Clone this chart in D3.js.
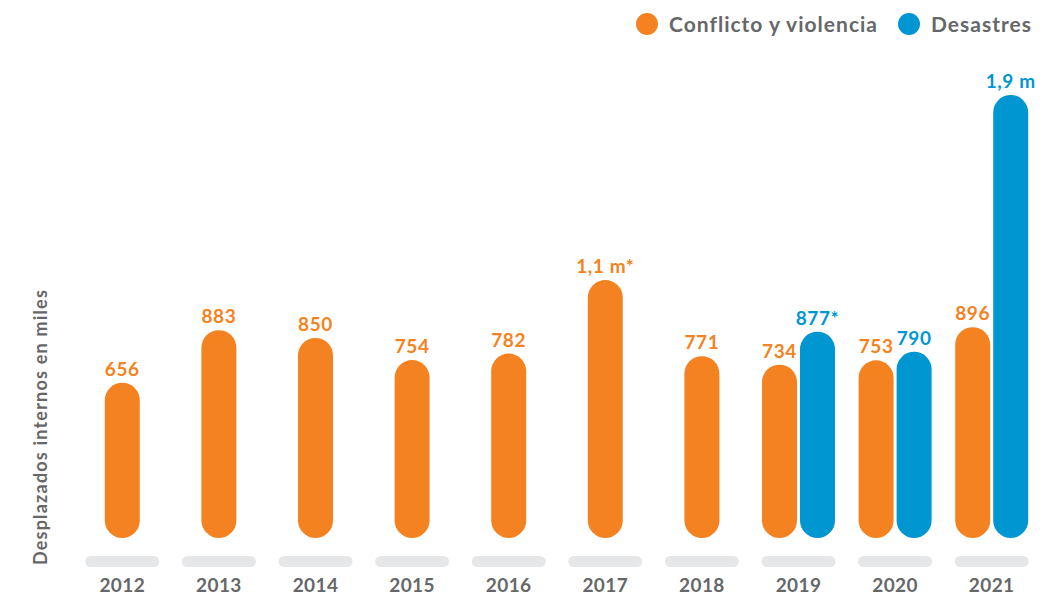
<!DOCTYPE html>
<html>
<head>
<meta charset="utf-8">
<script src="https://cdn.jsdelivr.net/npm/d3@7"></script>
<style>
  html, body { margin: 0; padding: 0; background: #fff; }
  svg { display: block; font-family: Lato, "Open Sans", sans-serif; }
</style>
</head>
<body>
<svg id="chart" width="1061" height="597"></svg>
<script>
// Internal displacement stock, thousands of people
const years = ["2012", "2013", "2014", "2015", "2016", "2017", "2018", "2019", "2020", "2021"];
const conflictValues = [656, 883, 850, 754, 782, 1100, 771, 734, 753, 896];
const conflictLabels = ["656", "883", "850", "754", "782", "1,1 m*", "771", "734", "753", "896"];
const disasterValues = [null, null, null, null, null, null, null, 877, 790, 1900];
const disasterLabels = [null, null, null, null, null, null, null, "877*", "790", "1,9 m"];
const seriesNames = ["Conflicto y violencia", "Desastres"];
const seriesColors = ["#F58220", "#0096D2"];
const axisTitle = "Desplazados internos en miles";

const svg = d3.select("#chart");
const textGray = "#666769";

const x = d3.scaleBand().domain(years).range([74, 1040]).padding(0);
const y = d3.scaleLinear().domain([0, 1900]).range([534.5, 95]);
const barBottom = 538;
const barW = 35;
const pairOffset = 19;

// Gray track under each year
svg.append("g").selectAll("rect")
  .data(years)
  .join("rect")
  .attr("x", d => x(d) + x.bandwidth() / 2 - 37)
  .attr("y", 556)
  .attr("width", 74)
  .attr("height", 11)
  .attr("rx", 5.5)
  .attr("fill", "#E6E7E8");

// Year labels
svg.append("g").selectAll("text")
  .data(years)
  .join("text")
  .attr("x", d => x(d) + x.bandwidth() / 2)
  .attr("y", 592)
  .attr("text-anchor", "middle")
  .attr("font-size", 19)
  .attr("font-weight", 700)
  .attr("letter-spacing", 0.4)
  .attr("fill", textGray)
  .text(d => d);

// Flatten both series into bar records
const bars = [];
years.forEach((yr, i) => {
  const hasPair = disasterValues[i] != null;
  const cx = x(yr) + x.bandwidth() / 2;
  bars.push({ year: yr, value: conflictValues[i], label: conflictLabels[i], s: 0, cx: hasPair ? cx - pairOffset : cx });
  if (hasPair) {
    bars.push({ year: yr, value: disasterValues[i], label: disasterLabels[i], s: 1, cx: cx + pairOffset });
  }
});

// Pill-shaped bars
svg.append("g").selectAll("rect")
  .data(bars)
  .join("rect")
  .attr("x", d => d.cx - barW / 2)
  .attr("y", d => y(d.value))
  .attr("width", barW)
  .attr("height", d => barBottom - y(d.value))
  .attr("rx", barW / 2)
  .attr("fill", d => seriesColors[d.s]);

// Value labels
svg.append("g").selectAll("text")
  .data(bars)
  .join("text")
  .attr("x", d => d.cx)
  .attr("y", d => y(d.value) - 7)
  .attr("text-anchor", "middle")
  .attr("font-size", 19)
  .attr("font-weight", 700)
  .attr("letter-spacing", 0.6)
  .attr("fill", d => seriesColors[d.s])
  .text(d => d.label);

// Vertical axis title
svg.append("text")
  .attr("transform", "translate(47,427) rotate(-90)")
  .attr("text-anchor", "middle")
  .attr("font-size", 18)
  .attr("font-weight", 700)
  .attr("letter-spacing", 1.2)
  .attr("fill", textGray)
  .text(axisTitle);

// Legend
const legendX = [647, 909];
const legend = svg.append("g").selectAll("g")
  .data(seriesNames)
  .join("g")
  .attr("transform", (d, i) => `translate(${legendX[i]},24)`);
legend.append("circle")
  .attr("r", 11)
  .attr("fill", (d, i) => seriesColors[i]);
legend.append("text")
  .attr("x", 22)
  .attr("y", 7.5)
  .attr("font-size", 21)
  .attr("font-weight", 700)
  .attr("letter-spacing", 1)
  .attr("fill", textGray)
  .text(d => d);
</script>
</body>
</html>
